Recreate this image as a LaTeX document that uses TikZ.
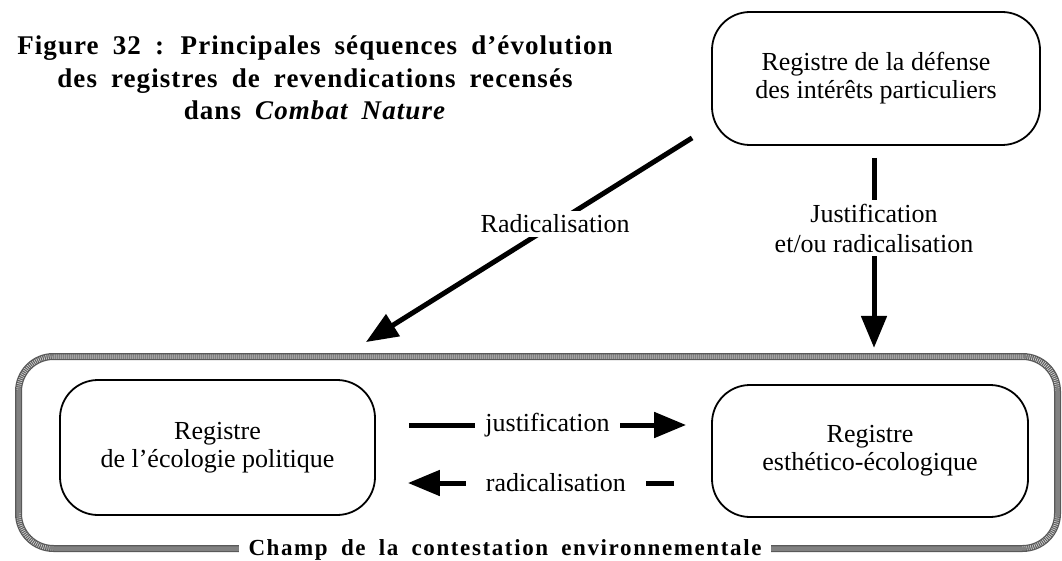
\documentclass[tikz,border=0pt]{standalone}
\usepackage{fontspec}
\setmainfont{Liberation Serif}
\newfontfamily\titlefont[LetterSpace=4,WordSpace=1.8]{Liberation Serif}
\newfontfamily\champfont[LetterSpace=7,WordSpace=1.8]{Liberation Serif}
\usetikzlibrary{arrows.meta,calc,positioning}

\begin{document}
\begin{tikzpicture}[x=1pt,y=-1pt, every node/.style={font=\fontsize{26}{28}\selectfont, align=center},
    regbox/.style={draw, line width=1.8pt, rounded corners=38pt},
    champframe/.style={draw=black!65, line width=7pt, rounded corners=35pt,
      postaction={draw=black!20, line width=4.5pt, dash pattern=on 0.8pt off 1.2pt}},
    arr/.style={line width=5pt, -{Triangle[length=32pt,width=25pt]}},
    gap/.style={fill=white, inner sep=4pt}]
    \useasboundingbox (0,0) rectangle (1062,561);
    \node[font=\titlefont\bfseries\fontsize{27}{32.5}\selectfont] (titre) at (315,78) {Figure 32 : Principales séquences d’évolution\\des registres de revendications recensés\\dans \textit{Combat Nature}};
    \node[champframe, minimum width=1039pt, minimum height=192pt] (champ) at (538,452.5) {};
    \node[font=\champfont\bfseries\fontsize{23}{26}\selectfont, fill=white, inner xsep=10pt, inner ysep=2pt, anchor=base] (champlbl) at ($(champ.south)+(-33,3)$) {Champ de la contestation environnementale};
    \node[regbox, minimum width=328pt, minimum height=133pt] (tbox) at (876,78.5) {Registre de la défense\\des intérêts particuliers};
    \node[regbox, minimum width=315pt, minimum height=135pt] (lbox) at (217.5,447.5) {Registre\\de l’écologie politique};
    \node[regbox, minimum width=316pt, minimum height=132pt] (rbox) at (870,451) {Registre\\esthético-écologique};
    \draw[arr] ($(tbox.south west)+(-19,-8)$) -- node[gap, pos=0.42] {Radicalisation} ($(lbox.north east)+(-10,-37)$);
    \draw[arr] ($(tbox.south)+(-2,12)$) -- node[gap, pos=0.37, font=\fontsize{26}{30}\selectfont] {Justification\\et/ou radicalisation} ($(tbox.south)+(-2,202)$);
    \draw[arr] ($(lbox.east)+(33,-22.5)$) -- node[gap, inner xsep=10pt] {justification} ($(rbox.west)+(-25,-26)$);
    \draw[arr] ($(rbox.west)+(-37,32)$) -- node[gap, pos=0.444, inner xsep=20pt] {radicalisation} ($(lbox.east)+(32,35.5)$);
\end{tikzpicture}
\end{document}
